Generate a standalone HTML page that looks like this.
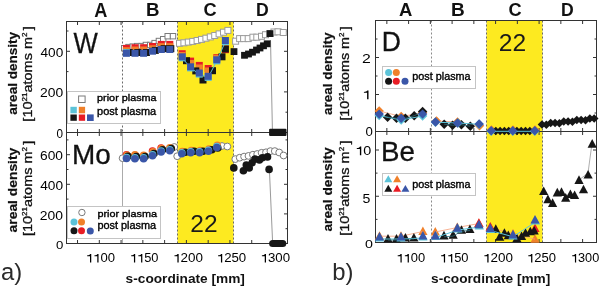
<!DOCTYPE html><html><head><meta charset="utf-8"><style>html,body{margin:0;padding:0;background:#fff;width:601px;height:287px;overflow:hidden}svg{display:block;will-change:transform}text{font-family:"Liberation Sans",sans-serif}</style></head><body>
<svg width="601" height="287" viewBox="0 0 601 287">
<rect width="601" height="287" fill="#fff"/>
<rect x="177.5" y="21.5" width="56.0" height="222.0" fill="#fdea20"/>
<line x1="122.50" y1="21.50" x2="122.50" y2="132.50" stroke="#6a6a6a" stroke-width="1" stroke-dasharray="2,2"/>
<line x1="122.50" y1="132.50" x2="122.50" y2="243.50" stroke="#ababab" stroke-width="1" />
<line x1="177.50" y1="21.50" x2="177.50" y2="243.50" stroke="#6a6a6a" stroke-width="1" stroke-dasharray="2,2"/>
<line x1="233.50" y1="21.50" x2="233.50" y2="243.50" stroke="#6a6a6a" stroke-width="1" stroke-dasharray="2,2"/>
<rect x="66.5" y="21.5" width="221.0" height="222.0" fill="none" stroke="#333" stroke-width="1"/>
<line x1="66.50" y1="132.50" x2="287.50" y2="132.50" stroke="#333" stroke-width="1" />
<line x1="77.53" y1="21.50" x2="77.53" y2="25.00" stroke="#333" stroke-width="1" />
<line x1="77.53" y1="129.00" x2="77.53" y2="136.00" stroke="#333" stroke-width="1" />
<line x1="77.53" y1="243.50" x2="77.53" y2="240.00" stroke="#333" stroke-width="1" />
<line x1="99.30" y1="21.50" x2="99.30" y2="25.00" stroke="#333" stroke-width="1" />
<line x1="99.30" y1="129.00" x2="99.30" y2="136.00" stroke="#333" stroke-width="1" />
<line x1="99.30" y1="243.50" x2="99.30" y2="240.00" stroke="#333" stroke-width="1" />
<line x1="121.07" y1="21.50" x2="121.07" y2="25.00" stroke="#333" stroke-width="1" />
<line x1="121.07" y1="129.00" x2="121.07" y2="136.00" stroke="#333" stroke-width="1" />
<line x1="121.07" y1="243.50" x2="121.07" y2="240.00" stroke="#333" stroke-width="1" />
<line x1="142.85" y1="21.50" x2="142.85" y2="25.00" stroke="#333" stroke-width="1" />
<line x1="142.85" y1="129.00" x2="142.85" y2="136.00" stroke="#333" stroke-width="1" />
<line x1="142.85" y1="243.50" x2="142.85" y2="240.00" stroke="#333" stroke-width="1" />
<line x1="164.62" y1="21.50" x2="164.62" y2="25.00" stroke="#333" stroke-width="1" />
<line x1="164.62" y1="129.00" x2="164.62" y2="136.00" stroke="#333" stroke-width="1" />
<line x1="164.62" y1="243.50" x2="164.62" y2="240.00" stroke="#333" stroke-width="1" />
<line x1="186.40" y1="21.50" x2="186.40" y2="25.00" stroke="#333" stroke-width="1" />
<line x1="186.40" y1="129.00" x2="186.40" y2="136.00" stroke="#333" stroke-width="1" />
<line x1="186.40" y1="243.50" x2="186.40" y2="240.00" stroke="#333" stroke-width="1" />
<line x1="208.18" y1="21.50" x2="208.18" y2="25.00" stroke="#333" stroke-width="1" />
<line x1="208.18" y1="129.00" x2="208.18" y2="136.00" stroke="#333" stroke-width="1" />
<line x1="208.18" y1="243.50" x2="208.18" y2="240.00" stroke="#333" stroke-width="1" />
<line x1="229.95" y1="21.50" x2="229.95" y2="25.00" stroke="#333" stroke-width="1" />
<line x1="229.95" y1="129.00" x2="229.95" y2="136.00" stroke="#333" stroke-width="1" />
<line x1="229.95" y1="243.50" x2="229.95" y2="240.00" stroke="#333" stroke-width="1" />
<line x1="251.73" y1="21.50" x2="251.73" y2="25.00" stroke="#333" stroke-width="1" />
<line x1="251.73" y1="129.00" x2="251.73" y2="136.00" stroke="#333" stroke-width="1" />
<line x1="251.73" y1="243.50" x2="251.73" y2="240.00" stroke="#333" stroke-width="1" />
<line x1="273.50" y1="21.50" x2="273.50" y2="25.00" stroke="#333" stroke-width="1" />
<line x1="273.50" y1="129.00" x2="273.50" y2="136.00" stroke="#333" stroke-width="1" />
<line x1="273.50" y1="243.50" x2="273.50" y2="240.00" stroke="#333" stroke-width="1" />
<line x1="66.50" y1="112.20" x2="68.50" y2="112.20" stroke="#333" stroke-width="1" />
<line x1="287.50" y1="112.20" x2="285.50" y2="112.20" stroke="#333" stroke-width="1" />
<line x1="66.50" y1="91.90" x2="70.00" y2="91.90" stroke="#333" stroke-width="1" />
<line x1="287.50" y1="91.90" x2="284.00" y2="91.90" stroke="#333" stroke-width="1" />
<line x1="66.50" y1="71.60" x2="68.50" y2="71.60" stroke="#333" stroke-width="1" />
<line x1="287.50" y1="71.60" x2="285.50" y2="71.60" stroke="#333" stroke-width="1" />
<line x1="66.50" y1="51.30" x2="70.00" y2="51.30" stroke="#333" stroke-width="1" />
<line x1="287.50" y1="51.30" x2="284.00" y2="51.30" stroke="#333" stroke-width="1" />
<line x1="66.50" y1="31.00" x2="68.50" y2="31.00" stroke="#333" stroke-width="1" />
<line x1="287.50" y1="31.00" x2="285.50" y2="31.00" stroke="#333" stroke-width="1" />
<line x1="66.50" y1="228.70" x2="68.50" y2="228.70" stroke="#333" stroke-width="1" />
<line x1="287.50" y1="228.70" x2="285.50" y2="228.70" stroke="#333" stroke-width="1" />
<line x1="66.50" y1="213.90" x2="70.00" y2="213.90" stroke="#333" stroke-width="1" />
<line x1="287.50" y1="213.90" x2="284.00" y2="213.90" stroke="#333" stroke-width="1" />
<line x1="66.50" y1="199.10" x2="68.50" y2="199.10" stroke="#333" stroke-width="1" />
<line x1="287.50" y1="199.10" x2="285.50" y2="199.10" stroke="#333" stroke-width="1" />
<line x1="66.50" y1="184.30" x2="70.00" y2="184.30" stroke="#333" stroke-width="1" />
<line x1="287.50" y1="184.30" x2="284.00" y2="184.30" stroke="#333" stroke-width="1" />
<line x1="66.50" y1="169.50" x2="68.50" y2="169.50" stroke="#333" stroke-width="1" />
<line x1="287.50" y1="169.50" x2="285.50" y2="169.50" stroke="#333" stroke-width="1" />
<line x1="66.50" y1="154.70" x2="70.00" y2="154.70" stroke="#333" stroke-width="1" />
<line x1="287.50" y1="154.70" x2="284.00" y2="154.70" stroke="#333" stroke-width="1" />
<line x1="66.50" y1="139.90" x2="68.50" y2="139.90" stroke="#333" stroke-width="1" />
<line x1="287.50" y1="139.90" x2="285.50" y2="139.90" stroke="#333" stroke-width="1" />
<rect x="486.5" y="20.5" width="56.0" height="222.0" fill="#fdea20"/>
<line x1="431.50" y1="20.50" x2="431.50" y2="242.50" stroke="#8a8a8a" stroke-width="1" stroke-dasharray="2,2"/>
<line x1="486.50" y1="20.50" x2="486.50" y2="242.50" stroke="#6a6a6a" stroke-width="1" stroke-dasharray="2,2"/>
<line x1="542.50" y1="20.50" x2="542.50" y2="242.50" stroke="#6a6a6a" stroke-width="1" stroke-dasharray="2,2"/>
<rect x="375.5" y="20.5" width="221.0" height="222.0" fill="none" stroke="#333" stroke-width="1"/>
<line x1="375.50" y1="131.50" x2="596.50" y2="131.50" stroke="#333" stroke-width="1" />
<line x1="386.85" y1="20.50" x2="386.85" y2="24.00" stroke="#333" stroke-width="1" />
<line x1="386.85" y1="128.00" x2="386.85" y2="135.00" stroke="#333" stroke-width="1" />
<line x1="386.85" y1="242.50" x2="386.85" y2="239.00" stroke="#333" stroke-width="1" />
<line x1="408.60" y1="20.50" x2="408.60" y2="24.00" stroke="#333" stroke-width="1" />
<line x1="408.60" y1="128.00" x2="408.60" y2="135.00" stroke="#333" stroke-width="1" />
<line x1="408.60" y1="242.50" x2="408.60" y2="239.00" stroke="#333" stroke-width="1" />
<line x1="430.35" y1="20.50" x2="430.35" y2="24.00" stroke="#333" stroke-width="1" />
<line x1="430.35" y1="128.00" x2="430.35" y2="135.00" stroke="#333" stroke-width="1" />
<line x1="430.35" y1="242.50" x2="430.35" y2="239.00" stroke="#333" stroke-width="1" />
<line x1="452.10" y1="20.50" x2="452.10" y2="24.00" stroke="#333" stroke-width="1" />
<line x1="452.10" y1="128.00" x2="452.10" y2="135.00" stroke="#333" stroke-width="1" />
<line x1="452.10" y1="242.50" x2="452.10" y2="239.00" stroke="#333" stroke-width="1" />
<line x1="473.85" y1="20.50" x2="473.85" y2="24.00" stroke="#333" stroke-width="1" />
<line x1="473.85" y1="128.00" x2="473.85" y2="135.00" stroke="#333" stroke-width="1" />
<line x1="473.85" y1="242.50" x2="473.85" y2="239.00" stroke="#333" stroke-width="1" />
<line x1="495.60" y1="20.50" x2="495.60" y2="24.00" stroke="#333" stroke-width="1" />
<line x1="495.60" y1="128.00" x2="495.60" y2="135.00" stroke="#333" stroke-width="1" />
<line x1="495.60" y1="242.50" x2="495.60" y2="239.00" stroke="#333" stroke-width="1" />
<line x1="517.35" y1="20.50" x2="517.35" y2="24.00" stroke="#333" stroke-width="1" />
<line x1="517.35" y1="128.00" x2="517.35" y2="135.00" stroke="#333" stroke-width="1" />
<line x1="517.35" y1="242.50" x2="517.35" y2="239.00" stroke="#333" stroke-width="1" />
<line x1="539.10" y1="20.50" x2="539.10" y2="24.00" stroke="#333" stroke-width="1" />
<line x1="539.10" y1="128.00" x2="539.10" y2="135.00" stroke="#333" stroke-width="1" />
<line x1="539.10" y1="242.50" x2="539.10" y2="239.00" stroke="#333" stroke-width="1" />
<line x1="560.85" y1="20.50" x2="560.85" y2="24.00" stroke="#333" stroke-width="1" />
<line x1="560.85" y1="128.00" x2="560.85" y2="135.00" stroke="#333" stroke-width="1" />
<line x1="560.85" y1="242.50" x2="560.85" y2="239.00" stroke="#333" stroke-width="1" />
<line x1="582.60" y1="20.50" x2="582.60" y2="24.00" stroke="#333" stroke-width="1" />
<line x1="582.60" y1="128.00" x2="582.60" y2="135.00" stroke="#333" stroke-width="1" />
<line x1="582.60" y1="242.50" x2="582.60" y2="239.00" stroke="#333" stroke-width="1" />
<line x1="375.50" y1="113.00" x2="377.50" y2="113.00" stroke="#333" stroke-width="1" />
<line x1="596.50" y1="113.00" x2="594.50" y2="113.00" stroke="#333" stroke-width="1" />
<line x1="375.50" y1="94.50" x2="379.00" y2="94.50" stroke="#333" stroke-width="1" />
<line x1="596.50" y1="94.50" x2="593.00" y2="94.50" stroke="#333" stroke-width="1" />
<line x1="375.50" y1="76.00" x2="377.50" y2="76.00" stroke="#333" stroke-width="1" />
<line x1="596.50" y1="76.00" x2="594.50" y2="76.00" stroke="#333" stroke-width="1" />
<line x1="375.50" y1="57.50" x2="379.00" y2="57.50" stroke="#333" stroke-width="1" />
<line x1="596.50" y1="57.50" x2="593.00" y2="57.50" stroke="#333" stroke-width="1" />
<line x1="375.50" y1="39.00" x2="377.50" y2="39.00" stroke="#333" stroke-width="1" />
<line x1="596.50" y1="39.00" x2="594.50" y2="39.00" stroke="#333" stroke-width="1" />
<line x1="375.50" y1="219.38" x2="377.50" y2="219.38" stroke="#333" stroke-width="1" />
<line x1="596.50" y1="219.38" x2="594.50" y2="219.38" stroke="#333" stroke-width="1" />
<line x1="375.50" y1="196.25" x2="379.00" y2="196.25" stroke="#333" stroke-width="1" />
<line x1="596.50" y1="196.25" x2="593.00" y2="196.25" stroke="#333" stroke-width="1" />
<line x1="375.50" y1="173.12" x2="377.50" y2="173.12" stroke="#333" stroke-width="1" />
<line x1="596.50" y1="173.12" x2="594.50" y2="173.12" stroke="#333" stroke-width="1" />
<line x1="375.50" y1="150.00" x2="379.00" y2="150.00" stroke="#333" stroke-width="1" />
<line x1="596.50" y1="150.00" x2="593.00" y2="150.00" stroke="#333" stroke-width="1" />
<rect x="121.50" y="45.50" width="5.40" height="5.40" fill="#fff" stroke="#7a7a7a" stroke-width="1"/>
<rect x="125.80" y="44.40" width="5.40" height="5.40" fill="#fff" stroke="#7a7a7a" stroke-width="1"/>
<rect x="130.10" y="43.90" width="5.40" height="5.40" fill="#fff" stroke="#7a7a7a" stroke-width="1"/>
<rect x="134.50" y="43.40" width="5.40" height="5.40" fill="#fff" stroke="#7a7a7a" stroke-width="1"/>
<rect x="138.80" y="43.40" width="5.40" height="5.40" fill="#fff" stroke="#7a7a7a" stroke-width="1"/>
<rect x="143.20" y="42.30" width="5.40" height="5.40" fill="#fff" stroke="#7a7a7a" stroke-width="1"/>
<rect x="147.50" y="42.30" width="5.40" height="5.40" fill="#fff" stroke="#7a7a7a" stroke-width="1"/>
<rect x="151.90" y="40.40" width="5.40" height="5.40" fill="#fff" stroke="#7a7a7a" stroke-width="1"/>
<rect x="156.20" y="38.30" width="5.40" height="5.40" fill="#fff" stroke="#7a7a7a" stroke-width="1"/>
<rect x="160.50" y="36.50" width="5.40" height="5.40" fill="#fff" stroke="#7a7a7a" stroke-width="1"/>
<rect x="165.00" y="33.50" width="5.40" height="5.40" fill="#fff" stroke="#7a7a7a" stroke-width="1"/>
<rect x="170.30" y="33.50" width="5.40" height="5.40" fill="#fff" stroke="#7a7a7a" stroke-width="1"/>
<rect x="176.50" y="40.30" width="6.00" height="6.00" fill="#fff" stroke="#9c9c9c" stroke-width="1"/>
<rect x="180.90" y="39.80" width="6.00" height="6.00" fill="#fff" stroke="#9c9c9c" stroke-width="1"/>
<rect x="185.30" y="39.10" width="6.00" height="6.00" fill="#fff" stroke="#9c9c9c" stroke-width="1"/>
<rect x="189.70" y="38.40" width="6.00" height="6.00" fill="#fff" stroke="#9c9c9c" stroke-width="1"/>
<rect x="194.10" y="37.50" width="6.00" height="6.00" fill="#fff" stroke="#9c9c9c" stroke-width="1"/>
<rect x="198.50" y="36.40" width="6.00" height="6.00" fill="#fff" stroke="#9c9c9c" stroke-width="1"/>
<rect x="202.90" y="35.20" width="6.00" height="6.00" fill="#fff" stroke="#9c9c9c" stroke-width="1"/>
<rect x="207.30" y="33.90" width="6.00" height="6.00" fill="#fff" stroke="#9c9c9c" stroke-width="1"/>
<rect x="211.70" y="32.50" width="6.00" height="6.00" fill="#fff" stroke="#9c9c9c" stroke-width="1"/>
<rect x="216.10" y="30.90" width="6.00" height="6.00" fill="#fff" stroke="#9c9c9c" stroke-width="1"/>
<rect x="220.50" y="29.20" width="6.00" height="6.00" fill="#fff" stroke="#9c9c9c" stroke-width="1"/>
<rect x="224.90" y="27.40" width="6.00" height="6.00" fill="#fff" stroke="#9c9c9c" stroke-width="1"/>
<rect x="232.60" y="38.20" width="6.00" height="6.00" fill="#fff" stroke="#9c9c9c" stroke-width="1"/>
<rect x="236.60" y="35.60" width="6.00" height="6.00" fill="#fff" stroke="#9c9c9c" stroke-width="1"/>
<rect x="240.60" y="35.60" width="6.00" height="6.00" fill="#fff" stroke="#9c9c9c" stroke-width="1"/>
<rect x="245.20" y="35.60" width="6.00" height="6.00" fill="#fff" stroke="#9c9c9c" stroke-width="1"/>
<rect x="249.90" y="34.20" width="6.00" height="6.00" fill="#fff" stroke="#9c9c9c" stroke-width="1"/>
<rect x="253.80" y="34.20" width="6.00" height="6.00" fill="#fff" stroke="#9c9c9c" stroke-width="1"/>
<rect x="258.50" y="33.30" width="6.00" height="6.00" fill="#fff" stroke="#9c9c9c" stroke-width="1"/>
<rect x="262.50" y="31.70" width="6.00" height="6.00" fill="#fff" stroke="#9c9c9c" stroke-width="1"/>
<rect x="267.00" y="30.50" width="6.00" height="6.00" fill="#fff" stroke="#9c9c9c" stroke-width="1"/>
<rect x="271.00" y="29.00" width="6.00" height="6.00" fill="#fff" stroke="#9c9c9c" stroke-width="1"/>
<rect x="275.00" y="28.80" width="6.00" height="6.00" fill="#fff" stroke="#9c9c9c" stroke-width="1"/>
<rect x="280.30" y="29.50" width="6.00" height="6.00" fill="#fff" stroke="#9c9c9c" stroke-width="1"/>
<rect x="122.90" y="44.90" width="7.00" height="7.00" fill="#e81c24"/>
<rect x="122.90" y="47.20" width="7.00" height="7.00" fill="#f0802a"/>
<rect x="131.50" y="44.20" width="7.00" height="7.00" fill="#e81c24"/>
<rect x="131.50" y="46.50" width="7.00" height="7.00" fill="#f0802a"/>
<rect x="140.10" y="44.20" width="7.00" height="7.00" fill="#e81c24"/>
<rect x="140.10" y="46.50" width="7.00" height="7.00" fill="#f0802a"/>
<rect x="149.00" y="43.00" width="7.00" height="7.00" fill="#e81c24"/>
<rect x="149.00" y="45.30" width="7.00" height="7.00" fill="#f0802a"/>
<rect x="157.80" y="40.90" width="7.00" height="7.00" fill="#e81c24"/>
<rect x="157.80" y="43.20" width="7.00" height="7.00" fill="#f0802a"/>
<rect x="166.30" y="40.90" width="7.00" height="7.00" fill="#e81c24"/>
<rect x="166.30" y="43.20" width="7.00" height="7.00" fill="#f0802a"/>
<rect x="125.70" y="49.00" width="7.00" height="7.00" fill="#161616"/>
<rect x="134.30" y="49.00" width="7.00" height="7.00" fill="#161616"/>
<rect x="142.90" y="49.00" width="7.00" height="7.00" fill="#161616"/>
<rect x="151.80" y="46.90" width="7.00" height="7.00" fill="#161616"/>
<rect x="160.60" y="45.20" width="7.00" height="7.00" fill="#161616"/>
<rect x="167.30" y="45.20" width="7.00" height="7.00" fill="#161616"/>
<rect x="122.90" y="49.10" width="7.00" height="7.00" fill="#5cc3d8"/>
<rect x="122.90" y="49.80" width="7.00" height="7.00" fill="#3a56a8"/>
<rect x="131.50" y="49.80" width="7.00" height="7.00" fill="#3a56a8"/>
<rect x="140.10" y="49.80" width="7.00" height="7.00" fill="#3a56a8"/>
<rect x="149.00" y="47.70" width="7.00" height="7.00" fill="#3a56a8"/>
<rect x="157.80" y="46.00" width="7.00" height="7.00" fill="#3a56a8"/>
<rect x="166.30" y="46.00" width="7.00" height="7.00" fill="#3a56a8"/>
<rect x="178.70" y="50.20" width="7.00" height="7.00" fill="#e81c24"/>
<rect x="178.70" y="52.00" width="7.00" height="7.00" fill="#f0802a"/>
<rect x="187.10" y="57.60" width="7.00" height="7.00" fill="#e81c24"/>
<rect x="187.10" y="60.00" width="7.00" height="7.00" fill="#f0802a"/>
<rect x="195.80" y="61.90" width="7.00" height="7.00" fill="#e81c24"/>
<rect x="195.80" y="64.50" width="7.00" height="7.00" fill="#f0802a"/>
<rect x="204.70" y="65.00" width="7.00" height="7.00" fill="#e81c24"/>
<rect x="204.70" y="67.50" width="7.00" height="7.00" fill="#f0802a"/>
<rect x="213.30" y="54.20" width="7.00" height="7.00" fill="#e81c24"/>
<rect x="213.30" y="55.00" width="7.00" height="7.00" fill="#f0802a"/>
<rect x="221.90" y="46.20" width="7.00" height="7.00" fill="#e81c24"/>
<rect x="221.90" y="45.00" width="7.00" height="7.00" fill="#f0802a"/>
<rect x="183.00" y="57.20" width="7.00" height="7.00" fill="#161616"/>
<rect x="192.30" y="67.40" width="7.00" height="7.00" fill="#161616"/>
<rect x="199.50" y="76.50" width="7.00" height="7.00" fill="#161616"/>
<rect x="209.00" y="67.20" width="7.00" height="7.00" fill="#161616"/>
<rect x="218.50" y="53.30" width="7.00" height="7.00" fill="#161616"/>
<rect x="221.90" y="45.50" width="7.00" height="7.00" fill="#161616"/>
<polyline points="182.20,57.80 190.60,67.90 199.30,74.10 208.20,77.40 216.80,60.90 225.40,41.60" fill="none" stroke="#5cc3d8" stroke-width="1" />
<rect x="178.70" y="54.30" width="7.00" height="7.00" fill="#5cc3d8"/>
<rect x="178.70" y="53.30" width="7.00" height="7.00" fill="#3a56a8"/>
<rect x="187.10" y="64.40" width="7.00" height="7.00" fill="#5cc3d8"/>
<rect x="187.10" y="63.30" width="7.00" height="7.00" fill="#3a56a8"/>
<rect x="195.80" y="70.60" width="7.00" height="7.00" fill="#5cc3d8"/>
<rect x="195.80" y="69.50" width="7.00" height="7.00" fill="#3a56a8"/>
<rect x="204.70" y="73.90" width="7.00" height="7.00" fill="#5cc3d8"/>
<rect x="204.70" y="72.80" width="7.00" height="7.00" fill="#3a56a8"/>
<rect x="213.30" y="57.40" width="7.00" height="7.00" fill="#5cc3d8"/>
<rect x="213.30" y="56.30" width="7.00" height="7.00" fill="#3a56a8"/>
<rect x="221.90" y="38.10" width="7.00" height="7.00" fill="#5cc3d8"/>
<rect x="221.90" y="37.00" width="7.00" height="7.00" fill="#3a56a8"/>
<polyline points="270.50,40.00 272.40,129.00" fill="none" stroke="#9a9a9a" stroke-width="1" />
<rect x="230.60" y="48.20" width="6.80" height="6.80" fill="#161616"/>
<rect x="241.10" y="51.90" width="6.80" height="6.80" fill="#161616"/>
<rect x="245.10" y="50.60" width="6.80" height="6.80" fill="#161616"/>
<rect x="249.10" y="48.80" width="6.80" height="6.80" fill="#161616"/>
<rect x="253.10" y="46.60" width="6.80" height="6.80" fill="#161616"/>
<rect x="256.60" y="44.60" width="6.80" height="6.80" fill="#161616"/>
<rect x="260.10" y="42.40" width="6.80" height="6.80" fill="#161616"/>
<rect x="263.80" y="40.40" width="6.80" height="6.80" fill="#161616"/>
<rect x="266.60" y="30.20" width="6.80" height="6.80" fill="#161616"/>
<rect x="269.1" y="128.8" width="17.4" height="7.2" rx="1" fill="#161616"/>
<circle cx="122.60" cy="158.20" r="3.40" fill="#fff" stroke="#7a7a7a" stroke-width="1"/>
<circle cx="174.30" cy="147.00" r="3.40" fill="#fff" stroke="#7a7a7a" stroke-width="1"/>
<circle cx="177.20" cy="156.20" r="3.40" fill="#fff" stroke="#7a7a7a" stroke-width="1"/>
<circle cx="222.00" cy="146.00" r="3.40" fill="#fff" stroke="#7a7a7a" stroke-width="1"/>
<circle cx="227.30" cy="146.50" r="3.40" fill="#fff" stroke="#7a7a7a" stroke-width="1"/>
<circle cx="235.30" cy="159.10" r="3.40" fill="#fff" stroke="#7a7a7a" stroke-width="1"/>
<circle cx="239.70" cy="157.70" r="3.40" fill="#fff" stroke="#7a7a7a" stroke-width="1"/>
<circle cx="244.10" cy="156.60" r="3.40" fill="#fff" stroke="#7a7a7a" stroke-width="1"/>
<circle cx="248.50" cy="155.90" r="3.40" fill="#fff" stroke="#7a7a7a" stroke-width="1"/>
<circle cx="252.90" cy="154.70" r="3.40" fill="#fff" stroke="#7a7a7a" stroke-width="1"/>
<circle cx="257.20" cy="154.00" r="3.40" fill="#fff" stroke="#7a7a7a" stroke-width="1"/>
<circle cx="261.60" cy="152.80" r="3.40" fill="#fff" stroke="#7a7a7a" stroke-width="1"/>
<circle cx="266.00" cy="152.30" r="3.40" fill="#fff" stroke="#7a7a7a" stroke-width="1"/>
<circle cx="270.40" cy="151.10" r="3.40" fill="#fff" stroke="#7a7a7a" stroke-width="1"/>
<circle cx="274.80" cy="151.10" r="3.40" fill="#fff" stroke="#7a7a7a" stroke-width="1"/>
<circle cx="279.20" cy="152.50" r="3.40" fill="#fff" stroke="#7a7a7a" stroke-width="1"/>
<circle cx="283.60" cy="155.50" r="3.40" fill="#fff" stroke="#7a7a7a" stroke-width="1"/>
<circle cx="126.50" cy="154.80" r="3.80" fill="#e81c24"/>
<circle cx="127.00" cy="155.40" r="3.80" fill="#f0802a"/>
<circle cx="134.90" cy="154.80" r="3.80" fill="#f0802a"/>
<circle cx="135.40" cy="155.40" r="3.80" fill="#f0802a"/>
<circle cx="143.60" cy="155.30" r="3.80" fill="#f0802a"/>
<circle cx="144.10" cy="155.90" r="3.80" fill="#f0802a"/>
<circle cx="152.50" cy="151.10" r="3.80" fill="#e81c24"/>
<circle cx="153.00" cy="151.70" r="3.80" fill="#f0802a"/>
<circle cx="161.10" cy="148.00" r="3.80" fill="#e81c24"/>
<circle cx="161.60" cy="148.60" r="3.80" fill="#f0802a"/>
<circle cx="169.80" cy="147.70" r="3.80" fill="#f0802a"/>
<circle cx="170.30" cy="148.30" r="3.80" fill="#f0802a"/>
<circle cx="128.00" cy="156.30" r="3.80" fill="#161616"/>
<circle cx="136.40" cy="156.60" r="3.80" fill="#161616"/>
<circle cx="145.10" cy="156.60" r="3.80" fill="#161616"/>
<circle cx="154.00" cy="153.50" r="3.80" fill="#161616"/>
<circle cx="162.60" cy="149.80" r="3.80" fill="#161616"/>
<circle cx="171.30" cy="148.50" r="3.80" fill="#161616"/>
<circle cx="126.50" cy="157.60" r="3.80" fill="#5cc3d8"/>
<circle cx="126.50" cy="158.50" r="3.80" fill="#3a56a8"/>
<circle cx="134.90" cy="157.90" r="3.80" fill="#5cc3d8"/>
<circle cx="134.90" cy="158.80" r="3.80" fill="#3a56a8"/>
<circle cx="143.60" cy="157.90" r="3.80" fill="#5cc3d8"/>
<circle cx="143.60" cy="158.80" r="3.80" fill="#3a56a8"/>
<circle cx="152.50" cy="154.80" r="3.80" fill="#5cc3d8"/>
<circle cx="152.50" cy="155.70" r="3.80" fill="#3a56a8"/>
<circle cx="161.10" cy="151.10" r="3.80" fill="#5cc3d8"/>
<circle cx="161.10" cy="152.00" r="3.80" fill="#3a56a8"/>
<circle cx="169.80" cy="149.80" r="3.80" fill="#5cc3d8"/>
<circle cx="169.80" cy="150.70" r="3.80" fill="#3a56a8"/>
<circle cx="182.30" cy="151.60" r="3.80" fill="#f0802a"/>
<circle cx="191.20" cy="150.60" r="3.80" fill="#f0802a"/>
<circle cx="200.10" cy="150.60" r="3.80" fill="#f0802a"/>
<circle cx="208.90" cy="149.00" r="3.80" fill="#f0802a"/>
<circle cx="217.30" cy="145.30" r="3.80" fill="#f0802a"/>
<circle cx="185.30" cy="152.30" r="3.80" fill="#161616"/>
<circle cx="194.20" cy="151.30" r="3.80" fill="#161616"/>
<circle cx="203.10" cy="151.30" r="3.80" fill="#161616"/>
<circle cx="211.90" cy="149.70" r="3.80" fill="#161616"/>
<circle cx="217.80" cy="148.00" r="3.80" fill="#161616"/>
<circle cx="181.80" cy="152.80" r="3.80" fill="#5cc3d8"/>
<circle cx="181.80" cy="153.80" r="3.80" fill="#3a56a8"/>
<circle cx="190.70" cy="151.80" r="3.80" fill="#5cc3d8"/>
<circle cx="190.70" cy="152.80" r="3.80" fill="#3a56a8"/>
<circle cx="199.60" cy="151.80" r="3.80" fill="#5cc3d8"/>
<circle cx="199.60" cy="152.80" r="3.80" fill="#3a56a8"/>
<circle cx="208.40" cy="150.20" r="3.80" fill="#5cc3d8"/>
<circle cx="208.40" cy="151.20" r="3.80" fill="#3a56a8"/>
<circle cx="216.80" cy="146.50" r="3.80" fill="#5cc3d8"/>
<circle cx="216.80" cy="147.50" r="3.80" fill="#3a56a8"/>
<polyline points="269.50,172.00 272.50,240.00" fill="none" stroke="#9a9a9a" stroke-width="1" />
<circle cx="233.80" cy="167.90" r="3.80" fill="#161616"/>
<circle cx="243.40" cy="170.80" r="3.80" fill="#161616"/>
<circle cx="246.30" cy="165.00" r="3.80" fill="#161616"/>
<circle cx="249.20" cy="167.90" r="3.80" fill="#161616"/>
<circle cx="252.10" cy="162.80" r="3.80" fill="#161616"/>
<circle cx="255.00" cy="159.10" r="3.80" fill="#161616"/>
<circle cx="259.40" cy="159.90" r="3.80" fill="#161616"/>
<circle cx="262.40" cy="157.70" r="3.80" fill="#161616"/>
<circle cx="267.50" cy="156.90" r="3.80" fill="#161616"/>
<circle cx="269.10" cy="169.40" r="3.80" fill="#161616"/>
<rect x="269.1" y="240" width="17.2" height="7.1" rx="3.5" fill="#161616"/>
<polygon points="379.20,106.30 383.90,111.00 379.20,115.70 374.50,111.00" fill="#f0802a"/>
<polygon points="401.20,111.80 405.90,116.50 401.20,121.20 396.50,116.50" fill="#f0802a"/>
<polygon points="422.60,108.10 427.30,112.80 422.60,117.50 417.90,112.80" fill="#f0802a"/>
<polygon points="436.50,116.30 441.20,121.00 436.50,125.70 431.80,121.00" fill="#f0802a"/>
<polygon points="457.50,117.30 462.20,122.00 457.50,126.70 452.80,122.00" fill="#f0802a"/>
<polygon points="479.50,121.10 484.20,125.80 479.50,130.50 474.80,125.80" fill="#f0802a"/>
<polygon points="491.50,125.30 496.20,130.00 491.50,134.70 486.80,130.00" fill="#f0802a"/>
<polygon points="513.00,125.30 517.70,130.00 513.00,134.70 508.30,130.00" fill="#f0802a"/>
<polygon points="535.00,125.30 539.70,130.00 535.00,134.70 530.30,130.00" fill="#f0802a"/>
<polyline points="379.20,111.00 401.20,116.50 422.60,112.80" fill="none" stroke="#f5a07a" stroke-width="0.8" />
<polyline points="436.50,121.00 457.50,122.00 479.50,125.80" fill="none" stroke="#f5a07a" stroke-width="0.8" />
<polyline points="491.50,130.00 513.00,130.00 535.00,130.00" fill="none" stroke="#f5a07a" stroke-width="0.8" />
<polygon points="387.60,112.50 392.30,117.20 387.60,121.90 382.90,117.20" fill="#161616"/>
<polygon points="396.50,113.60 401.20,118.30 396.50,123.00 391.80,118.30" fill="#161616"/>
<polygon points="405.40,113.60 410.10,118.30 405.40,123.00 400.70,118.30" fill="#161616"/>
<polygon points="414.20,111.00 418.90,115.70 414.20,120.40 409.50,115.70" fill="#161616"/>
<polygon points="422.60,106.80 427.30,111.50 422.60,116.20 417.90,111.50" fill="#161616"/>
<polygon points="444.20,119.50 448.90,124.20 444.20,128.90 439.50,124.20" fill="#161616"/>
<polygon points="452.60,120.50 457.30,125.20 452.60,129.90 447.90,125.20" fill="#161616"/>
<polygon points="461.40,120.00 466.10,124.70 461.40,129.40 456.70,124.70" fill="#161616"/>
<polygon points="470.30,121.50 475.00,126.20 470.30,130.90 465.60,126.20" fill="#161616"/>
<polygon points="495.80,126.80 500.00,131.00 495.80,135.20 491.60,131.00" fill="#161616"/>
<polygon points="500.10,126.80 504.30,131.00 500.10,135.20 495.90,131.00" fill="#161616"/>
<polygon points="504.40,126.80 508.60,131.00 504.40,135.20 500.20,131.00" fill="#161616"/>
<polygon points="508.70,126.80 512.90,131.00 508.70,135.20 504.50,131.00" fill="#161616"/>
<polygon points="516.90,126.80 521.10,131.00 516.90,135.20 512.70,131.00" fill="#161616"/>
<polygon points="521.20,126.80 525.40,131.00 521.20,135.20 517.00,131.00" fill="#161616"/>
<polygon points="525.50,126.80 529.70,131.00 525.50,135.20 521.30,131.00" fill="#161616"/>
<polygon points="529.80,126.80 534.00,131.00 529.80,135.20 525.60,131.00" fill="#161616"/>
<polygon points="542.00,120.20 546.30,124.50 542.00,128.80 537.70,124.50" fill="#161616"/>
<polygon points="546.35,120.50 550.65,124.80 546.35,129.10 542.05,124.80" fill="#161616"/>
<polygon points="550.70,118.70 555.00,123.00 550.70,127.30 546.40,123.00" fill="#161616"/>
<polygon points="555.05,118.70 559.35,123.00 555.05,127.30 550.75,123.00" fill="#161616"/>
<polygon points="559.40,119.00 563.70,123.30 559.40,127.60 555.10,123.30" fill="#161616"/>
<polygon points="563.75,117.20 568.05,121.50 563.75,125.80 559.45,121.50" fill="#161616"/>
<polygon points="568.10,117.20 572.40,121.50 568.10,125.80 563.80,121.50" fill="#161616"/>
<polygon points="572.45,117.50 576.75,121.80 572.45,126.10 568.15,121.80" fill="#161616"/>
<polygon points="576.80,115.70 581.10,120.00 576.80,124.30 572.50,120.00" fill="#161616"/>
<polygon points="581.15,115.70 585.45,120.00 581.15,124.30 576.85,120.00" fill="#161616"/>
<polygon points="585.50,116.00 589.80,120.30 585.50,124.60 581.20,120.30" fill="#161616"/>
<polygon points="589.85,114.20 594.15,118.50 589.85,122.80 585.55,118.50" fill="#161616"/>
<polygon points="594.20,114.20 598.50,118.50 594.20,122.80 589.90,118.50" fill="#161616"/>
<polyline points="379.20,115.60 401.20,120.00 422.60,116.00" fill="none" stroke="#5cc3d8" stroke-width="1" />
<polyline points="435.50,122.20 458.00,123.00 479.00,124.30" fill="none" stroke="#5cc3d8" stroke-width="1" />
<polyline points="491.20,131.30 512.80,131.30 534.80,131.30" fill="none" stroke="#5cc3d8" stroke-width="1" />
<polyline points="387.60,117.20 396.50,118.30 405.40,118.30 414.20,115.70 422.60,111.50" fill="none" stroke="#2a6b78" stroke-width="0.8" />
<polyline points="444.20,124.20 452.60,125.20 461.40,124.70 470.30,126.20" fill="none" stroke="#2a6b78" stroke-width="0.8" />
<polygon points="379.20,110.90 383.90,115.60 379.20,120.30 374.50,115.60" fill="#5cc3d8"/>
<polygon points="401.20,115.30 405.90,120.00 401.20,124.70 396.50,120.00" fill="#5cc3d8"/>
<polygon points="422.60,111.30 427.30,116.00 422.60,120.70 417.90,116.00" fill="#5cc3d8"/>
<polygon points="435.50,117.50 440.20,122.20 435.50,126.90 430.80,122.20" fill="#5cc3d8"/>
<polygon points="458.00,118.30 462.70,123.00 458.00,127.70 453.30,123.00" fill="#5cc3d8"/>
<polygon points="479.00,119.60 483.70,124.30 479.00,129.00 474.30,124.30" fill="#5cc3d8"/>
<polygon points="491.20,126.60 495.90,131.30 491.20,136.00 486.50,131.30" fill="#5cc3d8"/>
<polygon points="512.80,126.60 517.50,131.30 512.80,136.00 508.10,131.30" fill="#5cc3d8"/>
<polygon points="534.80,126.60 539.50,131.30 534.80,136.00 530.10,131.30" fill="#5cc3d8"/>
<polygon points="379.20,109.40 383.90,114.10 379.20,118.80 374.50,114.10" fill="#3a56a8"/>
<polygon points="401.20,113.60 405.90,118.30 401.20,123.00 396.50,118.30" fill="#3a56a8"/>
<polygon points="422.60,109.40 427.30,114.10 422.60,118.80 417.90,114.10" fill="#3a56a8"/>
<polygon points="435.50,117.30 440.20,122.00 435.50,126.70 430.80,122.00" fill="#3a56a8"/>
<polygon points="457.50,118.30 462.20,123.00 457.50,127.70 452.80,123.00" fill="#3a56a8"/>
<polygon points="479.20,119.30 483.90,124.00 479.20,128.70 474.50,124.00" fill="#3a56a8"/>
<polygon points="491.20,126.10 495.90,130.80 491.20,135.50 486.50,130.80" fill="#3a56a8"/>
<polygon points="512.80,126.10 517.50,130.80 512.80,135.50 508.10,130.80" fill="#3a56a8"/>
<polygon points="534.80,126.10 539.50,130.80 534.80,135.50 530.10,130.80" fill="#3a56a8"/>
<polyline points="579.00,180.00 588.00,173.00 591.50,147.00" fill="none" stroke="#9a9a9a" stroke-width="0.8" />
<polygon points="379.50,231.20 384.10,239.80 374.90,239.80" fill="#f0802a"/>
<polygon points="401.00,231.20 405.60,239.80 396.40,239.80" fill="#f0802a"/>
<polygon points="422.90,226.50 427.50,235.10 418.30,235.10" fill="#f0802a"/>
<polygon points="435.30,227.00 439.90,235.60 430.70,235.60" fill="#f0802a"/>
<polygon points="457.30,222.50 461.90,231.10 452.70,231.10" fill="#f0802a"/>
<polygon points="478.90,218.50 483.50,227.10 474.30,227.10" fill="#f0802a"/>
<polygon points="490.30,222.50 494.90,231.10 485.70,231.10" fill="#f0802a"/>
<polygon points="513.00,229.00 517.60,237.60 508.40,237.60" fill="#f0802a"/>
<polygon points="535.00,234.20 539.60,242.80 530.40,242.80" fill="#f0802a"/>
<polyline points="379.50,236.20 401.00,236.20 422.90,231.50" fill="none" stroke="#f5a07a" stroke-width="0.8" />
<polyline points="435.30,232.00 457.30,227.50 478.90,223.50" fill="none" stroke="#f5a07a" stroke-width="0.8" />
<polyline points="490.30,227.50 513.00,234.00 535.00,239.20" fill="none" stroke="#f5a07a" stroke-width="0.8" />
<polygon points="478.90,218.30 483.50,226.90 474.30,226.90" fill="#e81c24"/>
<polygon points="490.30,222.00 494.90,230.60 485.70,230.60" fill="#e81c24"/>
<polygon points="535.00,223.50 539.60,232.10 530.40,232.10" fill="#e81c24"/>
<polygon points="388.00,234.00 392.60,242.60 383.40,242.60" fill="#161616"/>
<polygon points="396.50,234.00 401.10,242.60 391.90,242.60" fill="#161616"/>
<polygon points="405.40,233.00 410.00,241.60 400.80,241.60" fill="#161616"/>
<polygon points="413.90,233.00 418.50,241.60 409.30,241.60" fill="#161616"/>
<polygon points="444.00,230.80 448.60,239.40 439.40,239.40" fill="#161616"/>
<polygon points="453.10,230.10 457.70,238.70 448.50,238.70" fill="#161616"/>
<polygon points="461.50,225.20 466.10,233.80 456.90,233.80" fill="#161616"/>
<polygon points="469.90,224.50 474.50,233.10 465.30,233.10" fill="#161616"/>
<polygon points="495.80,224.30 500.40,232.90 491.20,232.90" fill="#161616"/>
<polygon points="499.70,232.10 504.30,240.70 495.10,240.70" fill="#161616"/>
<polygon points="504.40,228.20 509.00,236.80 499.80,236.80" fill="#161616"/>
<polygon points="508.30,230.60 512.90,239.20 503.70,239.20" fill="#161616"/>
<polygon points="516.90,233.60 521.50,242.20 512.30,242.20" fill="#161616"/>
<polygon points="521.60,231.40 526.20,240.00 517.00,240.00" fill="#161616"/>
<polygon points="525.50,228.20 530.10,236.80 520.90,236.80" fill="#161616"/>
<polygon points="530.30,226.70 534.90,235.30 525.70,235.30" fill="#161616"/>
<polygon points="534.20,225.90 538.80,234.50 529.60,234.50" fill="#161616"/>
<polygon points="543.70,186.50 548.30,195.10 539.10,195.10" fill="#161616"/>
<polygon points="547.90,194.60 552.50,203.20 543.30,203.20" fill="#161616"/>
<polygon points="552.60,198.30 557.20,206.90 548.00,206.90" fill="#161616"/>
<polygon points="557.30,187.80 561.90,196.40 552.70,196.40" fill="#161616"/>
<polygon points="561.50,187.30 566.10,195.90 556.90,195.90" fill="#161616"/>
<polygon points="565.70,193.10 570.30,201.70 561.10,201.70" fill="#161616"/>
<polygon points="570.40,189.40 575.00,198.00 565.80,198.00" fill="#161616"/>
<polygon points="574.60,190.50 579.20,199.10 570.00,199.10" fill="#161616"/>
<polygon points="579.00,175.30 583.60,183.90 574.40,183.90" fill="#161616"/>
<polygon points="583.50,184.70 588.10,193.30 578.90,193.30" fill="#161616"/>
<polygon points="588.10,169.90 592.70,178.50 583.50,178.50" fill="#161616"/>
<polygon points="592.20,139.10 596.80,147.70 587.60,147.70" fill="#161616"/>
<polyline points="379.50,239.00 401.00,239.00 422.90,238.00" fill="none" stroke="#5cc3d8" stroke-width="1" />
<polyline points="435.90,237.50 457.90,230.00 479.30,227.00" fill="none" stroke="#5cc3d8" stroke-width="1" />
<polyline points="490.50,230.50 513.00,236.80 535.50,222.00" fill="none" stroke="#5cc3d8" stroke-width="1" />
<polyline points="388.00,240.00 396.50,240.00 405.40,239.00 413.90,239.00" fill="none" stroke="#2a6b78" stroke-width="0.8" />
<polyline points="444.00,236.80 453.10,236.10 461.50,231.20 469.90,230.50" fill="none" stroke="#2a6b78" stroke-width="0.8" />
<polygon points="379.50,233.00 384.10,241.60 374.90,241.60" fill="#5cc3d8"/>
<polygon points="401.00,233.00 405.60,241.60 396.40,241.60" fill="#5cc3d8"/>
<polygon points="422.90,232.00 427.50,240.60 418.30,240.60" fill="#5cc3d8"/>
<polygon points="435.90,231.50 440.50,240.10 431.30,240.10" fill="#5cc3d8"/>
<polygon points="457.90,224.00 462.50,232.60 453.30,232.60" fill="#5cc3d8"/>
<polygon points="479.30,221.00 483.90,229.60 474.70,229.60" fill="#5cc3d8"/>
<polygon points="490.50,224.50 495.10,233.10 485.90,233.10" fill="#5cc3d8"/>
<polygon points="513.00,230.80 517.60,239.40 508.40,239.40" fill="#5cc3d8"/>
<polygon points="535.50,216.00 540.10,224.60 530.90,224.60" fill="#5cc3d8"/>
<polygon points="379.50,232.00 384.10,240.60 374.90,240.60" fill="#3a56a8"/>
<polygon points="401.00,232.00 405.60,240.60 396.40,240.60" fill="#3a56a8"/>
<polygon points="422.90,231.00 427.50,239.60 418.30,239.60" fill="#3a56a8"/>
<polygon points="435.30,230.80 439.90,239.40 430.70,239.40" fill="#3a56a8"/>
<polygon points="457.30,223.10 461.90,231.70 452.70,231.70" fill="#3a56a8"/>
<polygon points="478.90,219.70 483.50,228.30 474.30,228.30" fill="#3a56a8"/>
<polygon points="490.30,223.50 494.90,232.10 485.70,232.10" fill="#3a56a8"/>
<polygon points="513.00,229.80 517.60,238.40 508.40,238.40" fill="#3a56a8"/>
<polygon points="535.00,214.90 539.60,223.50 530.40,223.50" fill="#3a56a8"/>
<rect x="67.5" y="91.5" width="93.0" height="32.0" fill="#fff" stroke="#c4c4c4" stroke-width="1"/>
<rect x="67.5" y="206.5" width="93.0" height="32.0" fill="#fff" stroke="#c4c4c4" stroke-width="1"/>
<rect x="382.5" y="66.5" width="93.0" height="22.0" fill="#fff" stroke="#c4c4c4" stroke-width="1"/>
<rect x="382.5" y="173.5" width="93.0" height="22.0" fill="#fff" stroke="#c4c4c4" stroke-width="1"/>
<rect x="78.6" y="96" width="6.5" height="6.5" fill="#fff" stroke="#7a7a7a" stroke-width="1"/>
<rect x="70.4" y="106.8" width="6.3999999999999915" height="6.5" fill="#5cc3d8"/>
<rect x="78.8" y="106.8" width="6.299999999999997" height="6.5" fill="#f0802a"/>
<rect x="70.4" y="114.5" width="6.3999999999999915" height="6.299999999999997" fill="#161616"/>
<rect x="78.8" y="114.5" width="6.299999999999997" height="6.299999999999997" fill="#e81c24"/>
<rect x="87" y="114.4" width="6.700000000000003" height="6.599999999999994" fill="#3a56a8"/>
<circle cx="81.9" cy="212.5" r="3.2" fill="#fff" stroke="#7a7a7a" stroke-width="1"/>
<circle cx="74" cy="222.1" r="3.5" fill="#5cc3d8"/>
<circle cx="81.5" cy="222.1" r="3.5" fill="#f0802a"/>
<circle cx="74" cy="230.8" r="3.5" fill="#161616"/>
<circle cx="81.5" cy="230.8" r="3.5" fill="#e81c24"/>
<circle cx="90.3" cy="231.1" r="3.5" fill="#3a56a8"/>
<circle cx="388.6" cy="72.5" r="3.5" fill="#5cc3d8"/>
<circle cx="396.3" cy="72.5" r="3.5" fill="#f0802a"/>
<circle cx="388.6" cy="81.3" r="3.5" fill="#161616"/>
<circle cx="396.3" cy="81.3" r="3.5" fill="#e81c24"/>
<circle cx="405" cy="81.3" r="3.5" fill="#3a56a8"/>
<polygon points="388.3,175.3 392.3,182.2 384.3,182.2" fill="#5cc3d8"/>
<polygon points="397.1,175.3 401.1,182.2 393.1,182.2" fill="#f0802a"/>
<polygon points="388.3,184.8 392.3,191.7 384.3,191.7" fill="#161616"/>
<polygon points="397.1,184.8 401.1,191.7 393.1,191.7" fill="#e81c24"/>
<polygon points="405.4,185 409.4,191.7 401.4,191.7" fill="#3a56a8"/>
<text transform="translate(94.25,16.70) scale(0.9199,1)" font-size="19.77" font-weight="bold" fill="#111" >A</text>
<text transform="translate(146.05,16.20) scale(0.9969,1)" font-size="18.75" font-weight="bold" fill="#111" >B</text>
<text transform="translate(203.55,16.32) scale(0.9762,1)" font-size="18.64" font-weight="bold" fill="#111" >C</text>
<text transform="translate(255.92,16.20) scale(0.9540,1)" font-size="18.46" font-weight="bold" fill="#111" >D</text>
<text transform="translate(399.04,16.20) scale(0.9857,1)" font-size="18.75" font-weight="bold" fill="#111" >A</text>
<text transform="translate(451.03,16.20) scale(1.0144,1)" font-size="18.75" font-weight="bold" fill="#111" >B</text>
<text transform="translate(508.55,16.32) scale(0.9762,1)" font-size="18.64" font-weight="bold" fill="#111" >C</text>
<text transform="translate(560.92,16.20) scale(0.9392,1)" font-size="18.75" font-weight="bold" fill="#111" >D</text>
<text transform="translate(73.39,52.90) scale(0.8857,1)" font-size="29.07" font-weight="normal" fill="#111" stroke="#111" stroke-width="0.3">W</text>
<text transform="translate(72.11,163.73) scale(0.9933,1)" font-size="28.09" font-weight="normal" fill="#111" stroke="#111" stroke-width="0.3">Mo</text>
<text transform="translate(381.83,50.50) scale(0.9649,1)" font-size="27.47" font-weight="normal" fill="#111" stroke="#111" stroke-width="0.3">D</text>
<text transform="translate(381.03,160.63) scale(1.0022,1)" font-size="27.66" font-weight="normal" fill="#111" stroke="#111" stroke-width="0.3">Be</text>
<g transform="translate(56.44,138.18) scale(0.9644,1)"><text x="0.00" y="0" font-size="12.15" font-weight="normal" fill="#000" >0</text></g>
<g transform="translate(40.10,97.48) scale(1.0910,1)"><text x="0.00" y="0" font-size="12.71" font-weight="normal" fill="#000" >200</text></g>
<g transform="translate(40.49,57.48) scale(1.0724,1)"><text x="0.00" y="0" font-size="12.71" font-weight="normal" fill="#000" >400</text></g>
<g transform="translate(56.09,249.09) scale(1.1811,1)"><text x="0.00" y="0" font-size="11.16" font-weight="normal" fill="#000" >0</text></g>
<g transform="translate(39.80,219.58) scale(1.1083,1)"><text x="0.00" y="0" font-size="12.57" font-weight="normal" fill="#000" >200</text></g>
<g transform="translate(40.19,189.58) scale(1.1407,1)"><text x="0.00" y="0" font-size="12.01" font-weight="normal" fill="#000" >400</text></g>
<g transform="translate(40.00,159.68) scale(1.1450,1)"><text x="0.00" y="0" font-size="12.01" font-weight="normal" fill="#000" >600</text></g>
<g transform="translate(365.49,135.78) scale(1.0603,1)"><text x="0.00" y="0" font-size="12.43" font-weight="normal" fill="#000" >0</text></g>
<g transform="translate(362.42,99.30) scale(1.1770,1)"><polygon points="5.17,-8.80 5.17,-0.00 3.97,-0.00 3.97,-6.49 1.26,-6.49 1.26,-7.38 2.14,-7.44 3.15,-7.75 3.78,-8.32 4.10,-8.80" fill="#000"/></g>
<g transform="translate(362.01,63.10) scale(1.3137,1)"><text x="0.00" y="0" font-size="12.03" font-weight="normal" fill="#000" >2</text></g>
<g transform="translate(365.04,248.29) scale(1.2912,1)"><text x="0.00" y="0" font-size="11.02" font-weight="normal" fill="#000" >0</text></g>
<g transform="translate(362.53,202.58) scale(1.1205,1)"><text x="0.00" y="0" font-size="12.61" font-weight="normal" fill="#000" >5</text></g>
<g transform="translate(355.36,155.28) scale(1.1573,1)"><polygon points="5.10,-8.68 5.10,-0.00 3.92,-0.00 3.92,-6.40 1.24,-6.40 1.24,-7.27 2.11,-7.33 3.11,-7.64 3.73,-8.20 4.04,-8.68" fill="#000"/><text x="6.91" y="0" font-size="12.43" font-weight="normal" fill="#000" >0</text></g>
<g transform="translate(85.89,262.38) scale(1.0903,1)"><polygon points="4.92,-8.38 4.92,-0.00 3.78,-0.00 3.78,-6.18 1.20,-6.18 1.20,-7.02 2.04,-7.08 3.00,-7.38 3.60,-7.92 3.90,-8.38" fill="#000"/><polygon points="11.60,-8.38 11.60,-0.00 10.46,-0.00 10.46,-6.18 7.88,-6.18 7.88,-7.02 8.72,-7.08 9.68,-7.38 10.28,-7.92 10.58,-8.38" fill="#000"/><text x="13.35" y="0" font-size="12.01" font-weight="normal" fill="#000" >00</text></g>
<g transform="translate(129.91,262.38) scale(1.0704,1)"><polygon points="4.92,-8.38 4.92,-0.00 3.78,-0.00 3.78,-6.18 1.20,-6.18 1.20,-7.02 2.04,-7.08 3.00,-7.38 3.60,-7.92 3.90,-8.38" fill="#000"/><polygon points="11.60,-8.38 11.60,-0.00 10.46,-0.00 10.46,-6.18 7.88,-6.18 7.88,-7.02 8.72,-7.08 9.68,-7.38 10.28,-7.92 10.58,-8.38" fill="#000"/><text x="13.35" y="0" font-size="12.01" font-weight="normal" fill="#000" >50</text></g>
<g transform="translate(173.16,262.38) scale(1.1183,1)"><polygon points="4.92,-8.38 4.92,-0.00 3.78,-0.00 3.78,-6.18 1.20,-6.18 1.20,-7.02 2.04,-7.08 3.00,-7.38 3.60,-7.92 3.90,-8.38" fill="#000"/><text x="6.68" y="0" font-size="12.01" font-weight="normal" fill="#000" >200</text></g>
<g transform="translate(216.78,262.38) scale(1.1023,1)"><polygon points="4.92,-8.38 4.92,-0.00 3.78,-0.00 3.78,-6.18 1.20,-6.18 1.20,-7.02 2.04,-7.08 3.00,-7.38 3.60,-7.92 3.90,-8.38" fill="#000"/><text x="6.68" y="0" font-size="12.01" font-weight="normal" fill="#000" >250</text></g>
<g transform="translate(260.58,262.38) scale(1.1023,1)"><polygon points="4.92,-8.38 4.92,-0.00 3.78,-0.00 3.78,-6.18 1.20,-6.18 1.20,-7.02 2.04,-7.08 3.00,-7.38 3.60,-7.92 3.90,-8.38" fill="#000"/><text x="6.68" y="0" font-size="12.01" font-weight="normal" fill="#000" >300</text></g>
<g transform="translate(396.41,262.38) scale(1.0744,1)"><polygon points="4.92,-8.38 4.92,-0.00 3.78,-0.00 3.78,-6.18 1.20,-6.18 1.20,-7.02 2.04,-7.08 3.00,-7.38 3.60,-7.92 3.90,-8.38" fill="#000"/><polygon points="11.60,-8.38 11.60,-0.00 10.46,-0.00 10.46,-6.18 7.88,-6.18 7.88,-7.02 8.72,-7.08 9.68,-7.38 10.28,-7.92 10.58,-8.38" fill="#000"/><text x="13.35" y="0" font-size="12.01" font-weight="normal" fill="#000" >00</text></g>
<g transform="translate(439.81,262.38) scale(1.0744,1)"><polygon points="4.92,-8.38 4.92,-0.00 3.78,-0.00 3.78,-6.18 1.20,-6.18 1.20,-7.02 2.04,-7.08 3.00,-7.38 3.60,-7.92 3.90,-8.38" fill="#000"/><polygon points="11.60,-8.38 11.60,-0.00 10.46,-0.00 10.46,-6.18 7.88,-6.18 7.88,-7.02 8.72,-7.08 9.68,-7.38 10.28,-7.92 10.58,-8.38" fill="#000"/><text x="13.35" y="0" font-size="12.01" font-weight="normal" fill="#000" >50</text></g>
<g transform="translate(483.06,262.38) scale(1.1183,1)"><polygon points="4.92,-8.38 4.92,-0.00 3.78,-0.00 3.78,-6.18 1.20,-6.18 1.20,-7.02 2.04,-7.08 3.00,-7.38 3.60,-7.92 3.90,-8.38" fill="#000"/><text x="6.68" y="0" font-size="12.01" font-weight="normal" fill="#000" >200</text></g>
<g transform="translate(527.00,262.38) scale(1.0863,1)"><polygon points="4.92,-8.38 4.92,-0.00 3.78,-0.00 3.78,-6.18 1.20,-6.18 1.20,-7.02 2.04,-7.08 3.00,-7.38 3.60,-7.92 3.90,-8.38" fill="#000"/><text x="6.68" y="0" font-size="12.01" font-weight="normal" fill="#000" >250</text></g>
<g transform="translate(570.93,262.38) scale(1.0584,1)"><polygon points="4.92,-8.38 4.92,-0.00 3.78,-0.00 3.78,-6.18 1.20,-6.18 1.20,-7.02 2.04,-7.08 3.00,-7.38 3.60,-7.92 3.90,-8.38" fill="#000"/><text x="6.68" y="0" font-size="12.01" font-weight="normal" fill="#000" >300</text></g>
<text transform="translate(125.62,282.87) scale(1.0050,1)" font-size="13.62" font-weight="bold" fill="#111" >s-coordinate [mm]</text>
<text transform="translate(431.02,282.87) scale(1.0050,1)" font-size="13.62" font-weight="bold" fill="#111" >s-coordinate [mm]</text>
<text transform="translate(0.99,279.69) scale(1.0046,1)" font-size="23.72" font-weight="normal" fill="#2a2a2a" >a)</text>
<text transform="translate(332.16,279.69) scale(1.0060,1)" font-size="23.72" font-weight="normal" fill="#2a2a2a" >b)</text>
<text transform="translate(190.27,231.50) scale(1.0631,1)" font-size="23.06" font-weight="normal" fill="#1a1a1a" >22</text>
<text transform="translate(498.86,50.70) scale(1.0479,1)" font-size="23.49" font-weight="normal" fill="#1a1a1a" >22</text>
<text transform="translate(97.10,100.90) scale(1.1200,1)" font-size="9.66" font-weight="normal" fill="#000" stroke="#000" stroke-width="0.35">prior plasma</text>
<text transform="translate(97.09,114.96) scale(1.0644,1)" font-size="10.30" font-weight="normal" fill="#000" stroke="#000" stroke-width="0.35">post plasma</text>
<text transform="translate(97.40,216.85) scale(1.0994,1)" font-size="9.87" font-weight="normal" fill="#000" stroke="#000" stroke-width="0.35">prior plasma</text>
<text transform="translate(97.40,228.94) scale(1.0481,1)" font-size="10.41" font-weight="normal" fill="#000" stroke="#000" stroke-width="0.35">post plasma</text>
<text transform="translate(412.30,79.92) scale(1.0284,1)" font-size="10.51" font-weight="normal" fill="#000" stroke="#000" stroke-width="0.35">post plasma</text>
<text transform="translate(412.30,187.92) scale(1.0284,1)" font-size="10.51" font-weight="normal" fill="#000" stroke="#000" stroke-width="0.35">post plasma</text>
<text transform="translate(17.24,114.70) rotate(-90) scale(1.0986,1)" font-size="12.34" font-weight="bold" fill="#111" stroke="#111" stroke-width="0.2">areal density</text>
<text transform="translate(17.24,232.41) rotate(-90) scale(1.1239,1)" font-size="12.34" font-weight="bold" fill="#111" stroke="#111" stroke-width="0.2">areal density</text>
<text transform="translate(332.33,114.90) rotate(-90) scale(1.0477,1)" font-size="12.87" font-weight="bold" fill="#111" stroke="#111" stroke-width="0.2">areal density</text>
<text transform="translate(332.33,231.60) rotate(-90) scale(1.0732,1)" font-size="12.87" font-weight="bold" fill="#111" stroke="#111" stroke-width="0.2">areal density</text>
<text transform="translate(31.80,121.63) rotate(-90) scale(1.1578,1)" font-size="12.50" fill="#111" stroke="#111" stroke-width="0.3">[10<tspan font-size="7.00" dy="-5.25">21</tspan><tspan dy="5.25">atoms m</tspan><tspan font-size="7.00" dy="-5.25">2</tspan><tspan dy="5.25" dx="2.00">]</tspan></text>
<text transform="translate(31.80,236.03) rotate(-90) scale(1.1565,1)" font-size="12.50" fill="#111" stroke="#111" stroke-width="0.3">[10<tspan font-size="7.00" dy="-5.25">21</tspan><tspan dy="5.25">atoms m</tspan><tspan font-size="7.00" dy="-5.25">2</tspan><tspan dy="5.25" dx="2.00">]</tspan></text>
<text transform="translate(348.80,120.62) rotate(-90) scale(1.1441,1)" font-size="12.50" fill="#111" stroke="#111" stroke-width="0.3">[10<tspan font-size="7.00" dy="-5.25">21</tspan><tspan dy="5.25">atoms m</tspan><tspan font-size="7.00" dy="-5.25">2</tspan><tspan dy="5.25" dx="2.00">]</tspan></text>
<text transform="translate(348.80,235.83) rotate(-90) scale(1.1565,1)" font-size="12.50" fill="#111" stroke="#111" stroke-width="0.3">[10<tspan font-size="7.00" dy="-5.25">21</tspan><tspan dy="5.25">atoms m</tspan><tspan font-size="7.00" dy="-5.25">2</tspan><tspan dy="5.25" dx="2.00">]</tspan></text>
</svg></body></html>
